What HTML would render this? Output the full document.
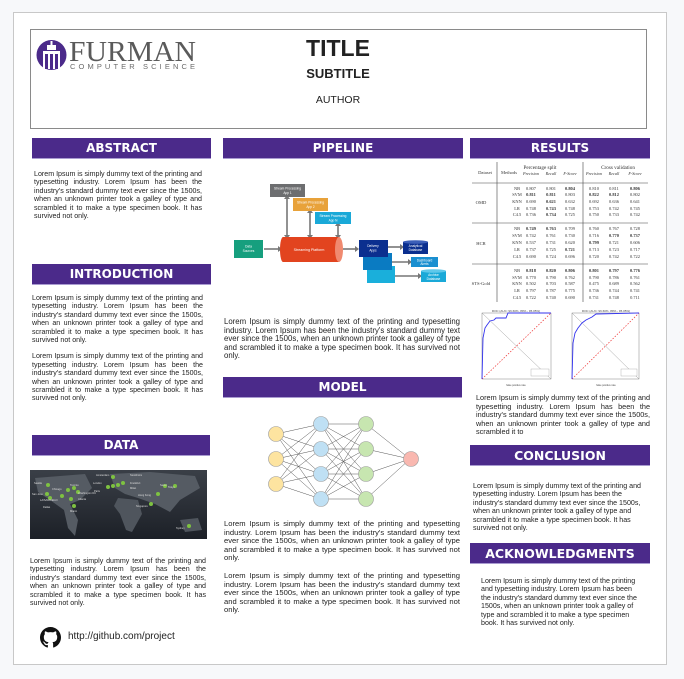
<!DOCTYPE html>
<html><head><meta charset="utf-8"><style>
*{margin:0;padding:0;box-sizing:border-box}
body{width:684px;height:679px;background:#f7f8fa;position:relative;overflow:hidden;font-family:"Liberation Sans",Arial,sans-serif;color:#222}
.a{position:absolute}
.poster{left:13px;top:12px;width:654px;height:653px;background:#fff;border:1px solid #c8c8c8}
.hdr{left:30px;top:29px;width:617px;height:100px;border:1px solid #8a8a8a}
.bar{position:absolute;background:#4b2a8a;color:#fff;font-weight:bold;text-align:center;font-family:"DejaVu Sans","Liberation Sans",sans-serif;border-bottom:1px solid #a99bd0}
.t{position:absolute;font-size:7.1px;line-height:8.4px;text-align:justify;color:#222}
.t p{margin-bottom:8px}
</style></head><body>
<div class="a poster"></div>
<div class="a hdr"></div>
<!-- logo -->
<svg class="a" style="left:36px;top:38px" width="165" height="36">
<circle cx="15.5" cy="17" r="15" fill="#4b2a8a"/>
<rect x="7" y="13" width="17" height="18" fill="#fff"/>
<rect x="9" y="16" width="3" height="15" fill="#4b2a8a"/><rect x="14" y="16" width="3" height="15" fill="#4b2a8a"/><rect x="19" y="16" width="3" height="15" fill="#4b2a8a"/>
<rect x="11" y="7" width="9" height="5" fill="#fff"/><rect x="14.5" y="3" width="2" height="4" fill="#fff"/>
<text x="33" y="23" font-family="Liberation Serif,serif" font-size="28" fill="#5a5a5a" textLength="127" lengthAdjust="spacingAndGlyphs">FURMAN</text>
<text x="34" y="31" font-family="Liberation Sans,sans-serif" font-size="7.5" fill="#6a6a6a" textLength="125" lengthAdjust="spacing">COMPUTER SCIENCE</text>
</svg>
<div class="a" style="left:238px;top:35px;width:200px;text-align:center;font-weight:bold;font-size:23px">TITLE</div>
<div class="a" style="left:238px;top:66px;width:200px;text-align:center;font-weight:bold;font-size:13px">SUBTITLE</div>
<div class="a" style="left:238px;top:94px;width:200px;text-align:center;font-size:10.5px">AUTHOR</div>

<div class="bar" style="left:32px;top:138px;width:179px;height:21px;font-size:12px;line-height:20px">ABSTRACT</div>
<div class="bar" style="left:223px;top:138px;width:240px;height:21px;font-size:12px;line-height:21px">PIPELINE</div>
<div class="bar" style="left:470px;top:138px;width:180px;height:21px;font-size:12px;line-height:21px">RESULTS</div>
<div class="bar" style="left:32px;top:264px;width:179px;height:21px;font-size:12px;line-height:21px">INTRODUCTION</div>
<div class="bar" style="left:32px;top:435px;width:178px;height:21px;font-size:12px;line-height:21px">DATA</div>
<div class="bar" style="left:223px;top:377px;width:239px;height:21px;font-size:12px;line-height:21px">MODEL</div>
<div class="bar" style="left:470px;top:445px;width:180px;height:21px;font-size:12.5px;line-height:21px">CONCLUSION</div>
<div class="bar" style="left:470px;top:543px;width:180px;height:21px;font-size:12.5px;line-height:21px">ACKNOWLEDGMENTS</div>

<div class="t" style="left:34px;top:170px;width:168px">Lorem Ipsum is simply dummy text of the printing and typesetting industry. Lorem Ipsum has been the industry's standard dummy text ever since the 1500s, when an unknown printer took a galley of type and scrambled it to make a type specimen book. It has survived not only.</div>
<div class="t" style="left:32px;top:294px;width:171px"><p>Lorem Ipsum is simply dummy text of the printing and typesetting industry. Lorem Ipsum has been the industry's standard dummy text ever since the 1500s, when an unknown printer took a galley of type and scrambled it to make a type specimen book. It has survived not only.</p><p>Lorem Ipsum is simply dummy text of the printing and typesetting industry. Lorem Ipsum has been the industry's standard dummy text ever since the 1500s, when an unknown printer took a galley of type and scrambled it to make a type specimen book. It has survived not only.</p></div>

<!-- map -->
<svg class="a" style="left:30px;top:470px" width="177" height="69">
<defs><linearGradient id="mg" x1="0" y1="0" x2="0" y2="1"><stop offset="0" stop-color="#3a3f47"/><stop offset="1" stop-color="#1c2027"/></linearGradient></defs>
<rect width="177" height="69" fill="url(#mg)"/>
<path d="M5 8 L55 4 L62 18 L50 30 L40 34 L48 50 L45 66 L38 58 L34 40 L20 30 L8 22Z" fill="#555b63"/>
<path d="M80 4 L120 2 L165 6 L170 18 L150 30 L140 42 L125 34 L108 28 L95 24 L85 18Z" fill="#555b63"/>
<path d="M88 28 L108 30 L112 44 L102 62 L96 60 L90 44 L84 36Z" fill="#4f555d"/>
<path d="M150 50 L168 48 L172 60 L155 62Z" fill="#4f555d"/>
<g fill="#7ec241"><circle cx="18" cy="15" r="2"/><circle cx="17" cy="24" r="2"/><circle cx="20" cy="28" r="2"/><circle cx="32" cy="26" r="2"/><circle cx="38" cy="20" r="2"/><circle cx="44" cy="18" r="2"/><circle cx="48" cy="22" r="2"/><circle cx="41" cy="29" r="2"/><circle cx="44" cy="36" r="2"/><circle cx="83" cy="7" r="2"/><circle cx="78" cy="17" r="2"/><circle cx="83" cy="16" r="2"/><circle cx="88" cy="15" r="2"/><circle cx="93" cy="13" r="2"/><circle cx="135" cy="16" r="2"/><circle cx="145" cy="16" r="2"/><circle cx="128" cy="24" r="2"/><circle cx="121" cy="34" r="2"/><circle cx="159" cy="56" r="2"/></g>
<g fill="#ddd" font-size="2.6"><text x="4" y="14">Seattle</text><text x="2" y="25">San Jose</text><text x="10" y="31">LA/SANDIEGO</text><text x="13" y="38">Dallas</text><text x="22" y="20">Chicago</text><text x="40" y="16">Toronto</text><text x="48" y="24">Washington DC</text><text x="48" y="30">Atlanta</text><text x="40" y="42">Miami</text><text x="66" y="6">Amsterdam</text><text x="100" y="6">Stockholm</text><text x="63" y="14">London</text><text x="100" y="14">Frankfurt</text><text x="100" y="19">Milan</text><text x="64" y="22">Paris</text><text x="138" y="18">Tokyo</text><text x="130" y="16">Seoul</text><text x="108" y="26">Hong Kong</text><text x="106" y="37">Singapore</text><text x="146" y="59">Sydney</text></g>
</svg>
<div class="t" style="left:30px;top:557px;width:176px">Lorem Ipsum is simply dummy text of the printing and typesetting industry. Lorem Ipsum has been the industry's standard dummy text ever since the 1500s, when an unknown printer took a galley of type and scrambled it to make a type specimen book. It has survived not only.</div>
<svg class="a" style="left:40px;top:627px" width="21" height="21" viewBox="0 0 16 16"><path fill="#111" d="M8 0C3.58 0 0 3.58 0 8c0 3.540 2.29 6.530 5.470 7.590.4.07.55-.17.55-.38 0-.19-.01-.82-.01-1.490-2.010.37-2.530-.49-2.690-.94-.09-.23-.48-.94-.82-1.130-.28-.15-.68-.52-.01-.53.63-.01 1.080.58 1.230.82.72 1.210 1.870.87 2.330.66.07-.52.28-.87.51-1.070-1.780-.2-3.640-.89-3.640-3.950 0-.87.31-1.590.82-2.150-.08-.2-.36-1.020.08-2.120 0 0 .67-.21 2.200.82.64-.18 1.320-.27 2-.27.68 0 1.360.09 2 .27 1.530-1.040 2.200-.82 2.200-.82.44 1.100.16 1.920.08 2.120.51.56.82 1.270.82 2.150 0 3.070-1.870 3.750-3.650 3.950.29.25.54.73.54 1.480 0 1.070-.01 1.930-.01 2.200 0 .21.15.46.55.38A8.013 8.013 0 0016 8c0-4.420-3.580-8-8-8z"/></svg>
<div class="a" style="left:68px;top:631px;font-size:10px">http://github.com/project</div>

<!-- pipeline -->
<svg class="a" style="left:223px;top:180px" width="240" height="110" font-family="Liberation Sans,sans-serif" font-size="3.2" fill="#fff" text-anchor="middle">
<g stroke="#777" stroke-width="1.6" fill="none">
<line x1="64" y1="18" x2="64" y2="57"/><line x1="87" y1="32" x2="87" y2="57"/><line x1="115" y1="45" x2="115" y2="57"/>
<line x1="41" y1="69" x2="56" y2="69"/><line x1="120" y1="69" x2="133" y2="69"/>
<line x1="165" y1="67" x2="178" y2="67"/><line x1="169" y1="82" x2="186" y2="82"/><line x1="172" y1="96" x2="196" y2="96"/></g>
<g fill="#777"><path d="M61 19 L64 15 L67 19Z"/><path d="M61 55 L64 59 L67 55Z"/><path d="M84 33 L87 29 L90 33Z"/><path d="M84 55 L87 59 L90 55Z"/><path d="M112 46 L115 42 L118 46Z"/><path d="M112 55 L115 59 L118 55Z"/><path d="M55 66 L59 69 L55 72Z"/><path d="M132 66 L136 69 L132 72Z"/><path d="M177 64 L181 67 L177 70Z"/><path d="M185 79 L189 82 L185 85Z"/><path d="M195 93 L199 96 L195 99Z"/></g>
<rect x="47" y="4" width="35" height="13" fill="#6d6e70"/><text x="64.5" y="9.5">Stream Processing</text><text x="64.5" y="14">App 1</text>
<rect x="70" y="18" width="35" height="13" fill="#e8a23a"/><text x="87.5" y="23.5">Stream Processing</text><text x="87.5" y="28">App 2</text>
<rect x="92" y="32" width="36" height="12" fill="#1aa9d8"/><text x="110" y="37">Stream Processing</text><text x="110" y="41.5">App N</text>
<rect x="11" y="60" width="29" height="18" fill="#169f7e"/><text x="25.5" y="67.5">Data</text><text x="25.5" y="72">Sources</text>
<rect x="60" y="57" width="56" height="25" fill="#e2441f"/><ellipse cx="60" cy="69.5" rx="3" ry="12.5" fill="#e2441f"/><ellipse cx="116" cy="69.5" rx="4" ry="12.5" fill="#f08a70"/><text x="86" y="71" font-size="3.6">Streaming Platform</text>
<rect x="144" y="86" width="28" height="17" fill="#1aafdb"/>
<rect x="140" y="73" width="29" height="17" fill="#0a7bc2"/>
<rect x="136" y="60" width="29" height="17" fill="#0b2f8f"/><text x="150" y="67">Delivery</text><text x="150" y="71.5">Apps</text>
<rect x="180" y="62" width="25" height="12" fill="#0b2f8f"/><ellipse cx="192.5" cy="62" rx="12.5" ry="1.8" fill="#3c5fb8"/><text x="192.5" y="67">Analytical</text><text x="192.5" y="71">Database</text>
<rect x="188" y="77" width="27" height="10" fill="#1a8fd0"/><text x="201.5" y="81.5">Dashboard</text><text x="201.5" y="85">Alerts</text>
<rect x="198" y="91" width="25" height="11" fill="#1aa9d8"/><ellipse cx="210.5" cy="91" rx="12.5" ry="1.8" fill="#5fc8ea"/><text x="210.5" y="96">Archive</text><text x="210.5" y="100">Database</text>
</svg>
<div class="t" style="left:224px;top:318px;width:236px;font-size:7.8px;line-height:8.6px">Lorem Ipsum is simply dummy text of the printing and typesetting industry. Lorem Ipsum has been the industry's standard dummy text ever since the 1500s, when an unknown printer took a galley of type and scrambled it to make a type specimen book. It has survived not only.</div>

<!-- model -->
<svg class="a" style="left:223px;top:400px" width="240" height="110">
<g stroke="#555" stroke-width="0.5">
<path d="M53 34L98 24M53 34L98 49M53 34L98 74M53 34L98 99M53 59L98 24M53 59L98 49M53 59L98 74M53 59L98 99M53 84L98 24M53 84L98 49M53 84L98 74M53 84L98 99"/>
<path d="M98 24L143 24M98 24L143 49M98 24L143 74M98 24L143 99M98 49L143 24M98 49L143 49M98 49L143 74M98 49L143 99M98 74L143 24M98 74L143 49M98 74L143 74M98 74L143 99M98 99L143 24M98 99L143 49M98 99L143 74M98 99L143 99"/>
<path d="M143 24L187 59M143 49L187 59M143 74L187 59M143 99L187 59"/></g>
<g stroke="#999" stroke-width="0.6">
<circle cx="53" cy="34" r="7.5" fill="#fde4a0"/><circle cx="53" cy="59" r="7.5" fill="#fde4a0"/><circle cx="53" cy="84" r="7.5" fill="#fde4a0"/>
<circle cx="98" cy="24" r="7.5" fill="#bfe0f4"/><circle cx="98" cy="49" r="7.5" fill="#bfe0f4"/><circle cx="98" cy="74" r="7.5" fill="#bfe0f4"/><circle cx="98" cy="99" r="7.5" fill="#bfe0f4"/>
<circle cx="143" cy="24" r="7.5" fill="#c7e6b0"/><circle cx="143" cy="49" r="7.5" fill="#c7e6b0"/><circle cx="143" cy="74" r="7.5" fill="#c7e6b0"/><circle cx="143" cy="99" r="7.5" fill="#c7e6b0"/>
<circle cx="188" cy="59" r="7.5" fill="#f9b8b0"/></g>
</svg>
<div class="t" style="left:224px;top:520px;width:236px;font-size:7.6px;line-height:8.6px"><p style="margin-bottom:9px">Lorem Ipsum is simply dummy text of the printing and typesetting industry. Lorem Ipsum has been the industry's standard dummy text ever since the 1500s, when an unknown printer took a galley of type and scrambled it to make a type specimen book. It has survived not only.</p><p>Lorem Ipsum is simply dummy text of the printing and typesetting industry. Lorem Ipsum has been the industry's standard dummy text ever since the 1500s, when an unknown printer took a galley of type and scrambled it to make a type specimen book. It has survived not only.</p></div>

<!-- results table -->
<svg class="a" style="left:468px;top:160px" width="185" height="145" font-family="Liberation Serif,serif" font-size="4.6" fill="#333" text-anchor="middle">
<g stroke="#444" stroke-width="0.6"><line x1="29" y1="2" x2="29" y2="142"/><line x1="115" y1="2" x2="115" y2="142"/><line x1="4" y1="23" x2="180" y2="23"/><line x1="4" y1="63" x2="180" y2="63"/><line x1="4" y1="104" x2="180" y2="104"/></g>
<text x="72" y="9" font-size="5.2">Percentage split</text><text x="150" y="9" font-size="5.2">Cross validation</text>
<text x="17" y="14">Dataset</text><text x="41" y="14">Methods</text>
<g font-style="italic" font-size="4.2"><text x="63" y="15">Precision</text><text x="83" y="15">Recall</text><text x="102" y="15">F-Score</text><text x="126" y="15">Precision</text><text x="146" y="15">Recall</text><text x="167" y="15">F-Score</text></g>
<text x="13" y="44">OMD</text><text x="13" y="85">HCR</text><text x="13" y="125">STS-Gold</text>
<g font-size="4.4">
<text x="49" y="30">NB</text><text x="63" y="30">0.807</text><text x="83" y="30">0.801</text><text x="102" y="30" font-weight="bold">0.804</text><text x="126" y="30">0.810</text><text x="146" y="30">0.811</text><text x="167" y="30" font-weight="bold">0.806</text>
<text x="49" y="36">SVM</text><text x="63" y="36" font-weight="bold">0.811</text><text x="83" y="36" font-weight="bold">0.811</text><text x="102" y="36">0.803</text><text x="126" y="36" font-weight="bold">0.822</text><text x="146" y="36" font-weight="bold">0.812</text><text x="167" y="36">0.802</text>
<text x="49" y="43">KNN</text><text x="63" y="43">0.690</text><text x="83" y="43" font-weight="bold">0.621</text><text x="102" y="43">0.632</text><text x="126" y="43">0.692</text><text x="146" y="43">0.636</text><text x="167" y="43">0.641</text>
<text x="49" y="50">LR</text><text x="63" y="50">0.748</text><text x="83" y="50" font-weight="bold">0.743</text><text x="102" y="50">0.748</text><text x="126" y="50">0.753</text><text x="146" y="50">0.742</text><text x="167" y="50">0.745</text>
<text x="49" y="56">C4.5</text><text x="63" y="56">0.736</text><text x="83" y="56" font-weight="bold">0.734</text><text x="102" y="56">0.725</text><text x="126" y="56">0.750</text><text x="146" y="56">0.733</text><text x="167" y="56">0.742</text>
<text x="49" y="70">NB</text><text x="63" y="70" font-weight="bold">0.749</text><text x="83" y="70" font-weight="bold">0.763</text><text x="102" y="70">0.709</text><text x="126" y="70">0.760</text><text x="146" y="70">0.767</text><text x="167" y="70">0.728</text>
<text x="49" y="77">SVM</text><text x="63" y="77">0.742</text><text x="83" y="77">0.761</text><text x="102" y="77">0.730</text><text x="126" y="77">0.716</text><text x="146" y="77" font-weight="bold">0.770</text><text x="167" y="77" font-weight="bold">0.737</text>
<text x="49" y="84">KNN</text><text x="63" y="84">0.537</text><text x="83" y="84">0.731</text><text x="102" y="84">0.620</text><text x="126" y="84" font-weight="bold">0.799</text><text x="146" y="84">0.721</text><text x="167" y="84">0.606</text>
<text x="49" y="91">LR</text><text x="63" y="91">0.737</text><text x="83" y="91">0.725</text><text x="102" y="91" font-weight="bold">0.721</text><text x="126" y="91">0.713</text><text x="146" y="91">0.723</text><text x="167" y="91">0.717</text>
<text x="49" y="98">C4.5</text><text x="63" y="98">0.690</text><text x="83" y="98">0.724</text><text x="102" y="98">0.696</text><text x="126" y="98">0.720</text><text x="146" y="98">0.742</text><text x="167" y="98">0.722</text>
<text x="49" y="112">NB</text><text x="63" y="112" font-weight="bold">0.818</text><text x="83" y="112" font-weight="bold">0.820</text><text x="102" y="112" font-weight="bold">0.806</text><text x="126" y="112" font-weight="bold">0.801</text><text x="146" y="112" font-weight="bold">0.797</text><text x="167" y="112" font-weight="bold">0.776</text>
<text x="49" y="119">SVM</text><text x="63" y="119">0.770</text><text x="83" y="119">0.790</text><text x="102" y="119">0.762</text><text x="126" y="119">0.790</text><text x="146" y="119">0.786</text><text x="167" y="119">0.761</text>
<text x="49" y="125">KNN</text><text x="63" y="125">0.502</text><text x="83" y="125">0.703</text><text x="102" y="125">0.587</text><text x="126" y="125">0.475</text><text x="146" y="125">0.689</text><text x="167" y="125">0.562</text>
<text x="49" y="132">LR</text><text x="63" y="132">0.797</text><text x="83" y="132">0.787</text><text x="102" y="132">0.775</text><text x="126" y="132">0.736</text><text x="146" y="132">0.744</text><text x="167" y="132">0.741</text>
<text x="49" y="139">C4.5</text><text x="63" y="139">0.722</text><text x="83" y="139">0.740</text><text x="102" y="139">0.690</text><text x="126" y="139">0.731</text><text x="146" y="139">0.748</text><text x="167" y="139">0.711</text>
</g></svg>

<!-- ROC charts -->
<svg class="a" style="left:476px;top:308px" width="180" height="80" font-family="Liberation Sans,sans-serif" font-size="2.5" fill="#444">
<text x="40" y="4" text-anchor="middle" font-size="3">ROC (AUC: 96.60%, 89% - 95.05%)</text>
<rect x="6" y="5" width="69" height="66" fill="#fff" stroke="#666" stroke-width="0.4"/>
<line x1="6" y1="5" x2="75" y2="71" stroke="#888" stroke-width="0.4"/>
<line x1="6" y1="71" x2="75" y2="5" stroke="#e33" stroke-width="0.7" stroke-dasharray="1.5,1.5"/>
<path d="M6 71 L7 30 L9 20 L11 17 L14 13 L18 12 L20 10 L30 10 L32 5 L75 5" fill="none" stroke="#33e" stroke-width="0.9"/>
<rect x="55" y="61" width="18" height="7" fill="#fff" stroke="#888" stroke-width="0.3"/>
<text x="40" y="78" text-anchor="middle">false positive rate</text>
<text x="130" y="4" text-anchor="middle" font-size="3">ROC (AUC: 96.60%, 89% - 95.05%)</text>
<rect x="96" y="5" width="67" height="66" fill="#fff" stroke="#666" stroke-width="0.4"/>
<line x1="96" y1="5" x2="163" y2="71" stroke="#888" stroke-width="0.4"/>
<line x1="96" y1="71" x2="163" y2="5" stroke="#e33" stroke-width="0.7" stroke-dasharray="1.5,1.5"/>
<path d="M96 71 L97 35 L99 25 L102 20 L106 15 L110 12 L116 9 L120 6 L163 5" fill="none" stroke="#33e" stroke-width="0.9"/>
<rect x="145" y="61" width="16" height="7" fill="#fff" stroke="#888" stroke-width="0.3"/>
<text x="130" y="78" text-anchor="middle">false positive rate</text>
</svg>
<div class="t" style="left:476px;top:394px;width:174px;font-size:7.3px;line-height:8.6px">Lorem Ipsum is simply dummy text of the printing and typesetting industry. Lorem Ipsum has been the industry's standard dummy text ever since the 1500s, when an unknown printer took a galley of type and scrambled it to</div>
<div class="t" style="left:473px;top:482px;width:176px;text-align:left;font-size:7.1px;line-height:8.4px">Lorem Ipsum is simply dummy text of the printing and typesetting industry. Lorem Ipsum has been the industry's standard dummy text ever since the 1500s, when an unknown printer took a galley of type and scrambled it to make a type specimen book. It has survived not only.</div>
<div class="t" style="left:481px;top:577px;width:160px;text-align:left;font-size:7.1px;line-height:8.4px">Lorem Ipsum is simply dummy text of the printing and typesetting industry. Lorem Ipsum has been the industry's standard dummy text ever since the 1500s, when an unknown printer took a galley of type and scrambled it to make a type specimen book. It has survived not only.</div>
</body></html>
